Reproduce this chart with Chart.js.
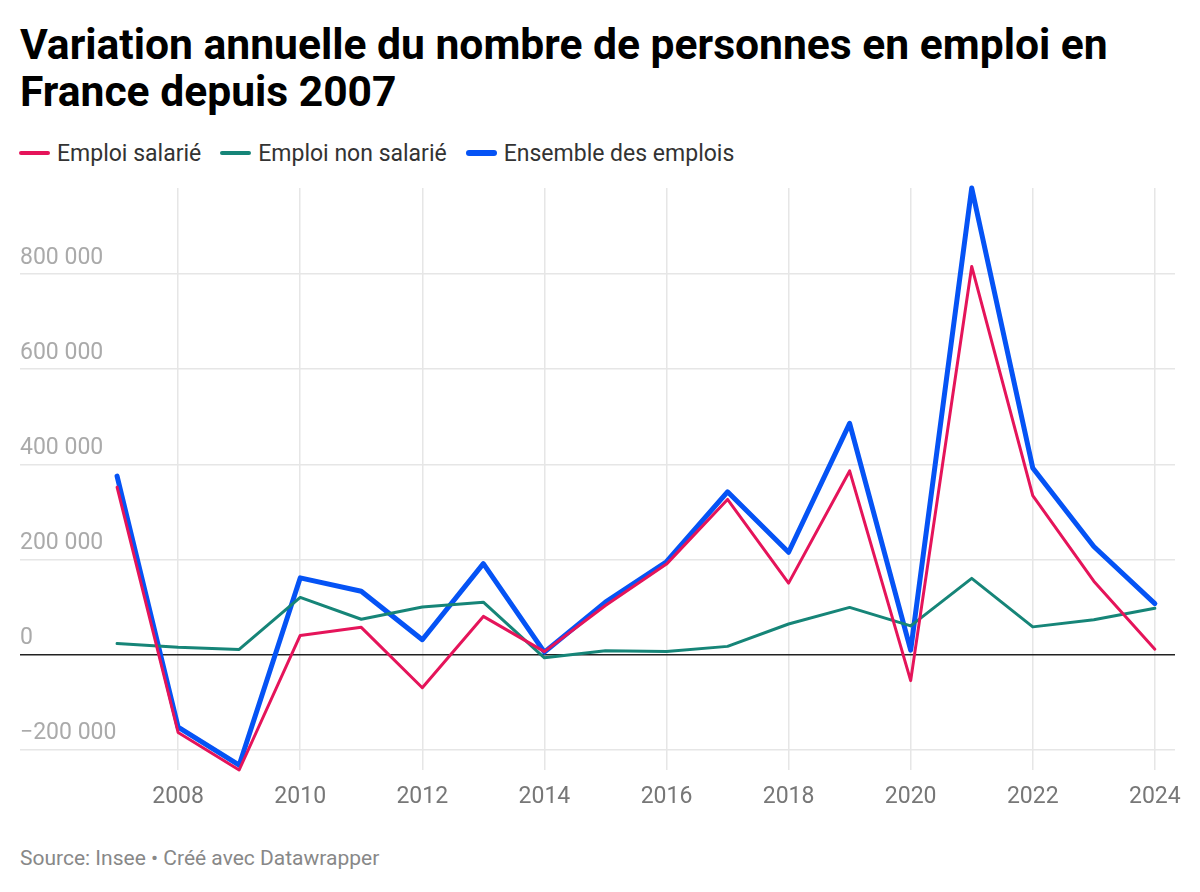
<!DOCTYPE html>
<html lang="fr">
<head>
<meta charset="utf-8">
<title>Variation annuelle du nombre de personnes en emploi</title>
<script src="https://cdn.jsdelivr.net/npm/chart.js@4/dist/chart.umd.min.js"></script>
<style>
  html, body { margin: 0; padding: 0; background: #fff; }
  body { width: 1200px; height: 892px; position: relative; font-family: Roboto, "Noto Sans", sans-serif; overflow: hidden; }
  h1 { position: absolute; left: 20px; top: 21px; margin: 0; width: 1160px; font-size: 42.6px; line-height: 47px; font-weight: 700; color: #000; }
  #legend { position: absolute; left: 19px; top: 139px; display: flex; font-size: 23px; color: #333; }
  .item { display: flex; align-items: center; margin-right: 19px; height: 28px; }
  .swatch { display: inline-block; width: 31px; border-radius: 3px; margin-right: 7px; }
  #wrap { position: absolute; left: 0; top: 170px; width: 1200px; height: 660px; }
  #source { position: absolute; left: 20px; top: 846px; font-size: 21px; color: #888; }
</style>
</head>
<body>
<h1>Variation annuelle du nombre de personnes en emploi en France depuis 2007</h1>
<div id="legend"></div>
<div id="wrap"><canvas id="chart"></canvas></div>
<div id="source">Source: Insee • Créé avec Datawrapper</div>
<script>
// données
const years = [2007, 2008, 2009, 2010, 2011, 2012, 2013, 2014, 2015, 2016, 2017, 2018, 2019, 2020, 2021, 2022, 2023, 2024];
const emploiSalarie = [352000, -164000, -243000, 40000, 57000, -70000, 80000, 6000, 103000, 190000, 326000, 150000, 386000, -55000, 816000, 334000, 154000, 11000];
const emploiNonSalarie = [23000, 15000, 10500, 120000, 74000, 100000, 110000, -7000, 8000, 6000, 17000, 64000, 99000, 60000, 160000, 58000, 73000, 97000];
const ensemble = [375000, -153000, -233000, 161000, 133000, 31000, 191000, 5000, 110000, 195000, 342000, 215000, 486000, 9000, 981000, 392000, 227000, 107000];
const xTicks = [2008, 2010, 2012, 2014, 2016, 2018, 2020, 2022, 2024];
const yTicks = [-200000, 0, 200000, 400000, 600000, 800000];

const series = [
    { label: 'Emploi salarié', values: emploiSalarie, color: '#e5145a', width: 3 },
    { label: 'Emploi non salarié', values: emploiNonSalarie, color: '#168578', width: 3 },
    { label: 'Ensemble des emplois', values: ensemble, color: '#0553f5', width: 5 }
];

// légende en HTML
const legend = document.getElementById('legend');
series.forEach(s => {
    const item = document.createElement('div');
    item.className = 'item';
    const sw = document.createElement('span');
    sw.className = 'swatch';
    sw.style.background = s.color;
    sw.style.height = (s.width + 1) + 'px';
    item.appendChild(sw);
    item.appendChild(document.createTextNode(s.label));
    legend.appendChild(item);
});

function formatNombre(v) {
    const txt = Math.abs(v).toString().replace(/\B(?=(\d{3})+(?!\d))/g, ' ');
    return v < 0 ? '\u2212' + txt : txt;
}

new Chart(document.getElementById('chart'), {
    type: 'line',
    data: {
        datasets: series.map(s => ({
            label: s.label,
            data: years.map((y, i) => ({ x: y, y: s.values[i] })),
            borderColor: s.color,
            borderWidth: s.width,
            pointRadius: 0,
            tension: 0,
            clip: false,
            borderJoinStyle: 'round',
            borderCapStyle: 'round'
        }))
    },
    options: {
        responsive: true,
        maintainAspectRatio: false,
        animation: false,
        layout: { padding: { left: 20, right: 25, top: 18, bottom: 0 } },
        plugins: {
            legend: { display: false },
            tooltip: { enabled: false }
        },
        scales: {
            x: {
                type: 'linear',
                min: 2005.41,
                max: 2024.33,
                afterBuildTicks: axis => { axis.ticks = xTicks.map(v => ({ value: v })); },
                afterFit: axis => { axis.height = 60; },
                grid: { color: '#e6e6e6', lineWidth: 1.5, drawTicks: false },
                border: { display: false },
                ticks: {
                    padding: 13,
                    color: '#777',
                    font: { family: 'Roboto', size: 23 },
                    maxRotation: 0,
                    callback: v => String(v)
                }
            },
            y: {
                min: -243000,
                max: 981000,
                afterBuildTicks: axis => { axis.ticks = yTicks.map(v => ({ value: v })); },
                afterFit: axis => { axis.width = 0; },
                grid: {
                    drawTicks: false,
                    color: c => c.tick && c.tick.value === 0 ? '#222' : '#e6e6e6',
                    lineWidth: 1.5
                },
                border: { display: false },
                ticks: {
                    mirror: true,
                    padding: 0,
                    labelOffset: -16,
                    color: '#aaa',
                    font: { family: 'Roboto', size: 23 },
                    callback: v => formatNombre(v)
                }
            }
        }
    }
});
</script>
</body>
</html>
